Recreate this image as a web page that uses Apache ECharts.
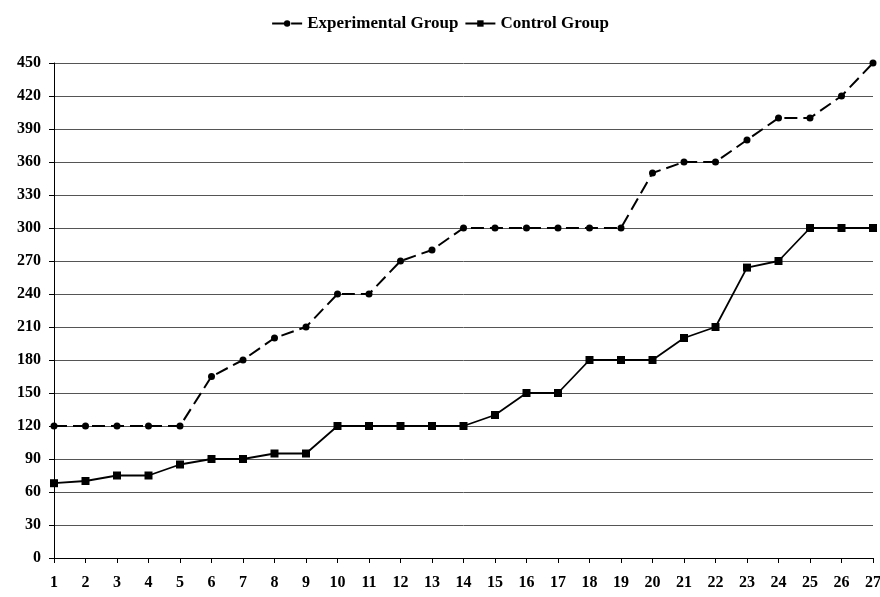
<!DOCTYPE html>
<html>
<head>
<meta charset="utf-8">
<script src="https://cdn.jsdelivr.net/npm/echarts@6/dist/echarts.min.js"></script>
<style>
  html, body { margin: 0; padding: 0; background: #fff; }
  #chart { width: 880px; height: 597px; }
</style>
</head>
<body>
<div id="chart"></div>
<script>
var sessions = ['1','2','3','4','5','6','7','8','9','10','11','12','13','14','15','16','17','18','19','20','21','22','23','24','25','26','27'];
var experimental = [120,120,120,120,120,165,180,200,210,240,240,270,280,300,300,300,300,300,300,350,360,360,380,400,400,420,450];
var control = [68,70,75,75,85,90,90,95,95,120,120,120,120,120,130,150,150,180,180,180,200,210,264,270,300,300,300];

var font = 'Liberation Serif, Times New Roman, serif';

var myChart = echarts.init(document.getElementById('chart'));
var option = {
    animation: false,
    legend: {
        top: 10,
        left: 'center',
        itemWidth: 30,
        itemHeight: 8,
        itemGap: 6,
        textStyle: { fontFamily: font, fontWeight: 'bold', fontSize: 17, color: '#000' },
        data: ['Experimental Group', 'Control Group']
    },
    grid: {
        left: 54,
        right: 7,
        top: 63,
        bottom: 39,
        outerBoundsMode: 'none'
    },
    xAxis: {
        type: 'category',
        data: sessions,
        boundaryGap: false,
        axisLine: { lineStyle: { color: '#000', width: 1 } },
        axisTick: { show: true, length: 5, lineStyle: { color: '#000' } },
        axisLabel: { fontFamily: font, fontWeight: 'bold', fontSize: 16, color: '#000', margin: 17, interval: 0 }
    },
    yAxis: {
        type: 'value',
        min: 0,
        max: 450,
        interval: 30,
        axisLine: { show: true, lineStyle: { color: '#000', width: 1 } },
        axisTick: { show: true, length: 5, lineStyle: { color: '#000' } },
        axisLabel: { fontFamily: font, fontWeight: 'bold', fontSize: 16, color: '#000', margin: 13 },
        splitLine: { lineStyle: { color: '#555', width: 1 } }
    },
    series: [
        {
            name: 'Experimental Group',
            type: 'line',
            data: experimental,
            symbol: 'circle',
            symbolSize: 7,
            itemStyle: { color: '#000' },
            lineStyle: { color: '#000', width: 2, type: [13, 6] }
        },
        {
            name: 'Control Group',
            type: 'line',
            data: control,
            symbol: 'rect',
            symbolSize: 8,
            itemStyle: { color: '#000' },
            lineStyle: { color: '#000', width: 1.8 }
        }
    ]
};
myChart.setOption(option);
</script>
</body>
</html>
